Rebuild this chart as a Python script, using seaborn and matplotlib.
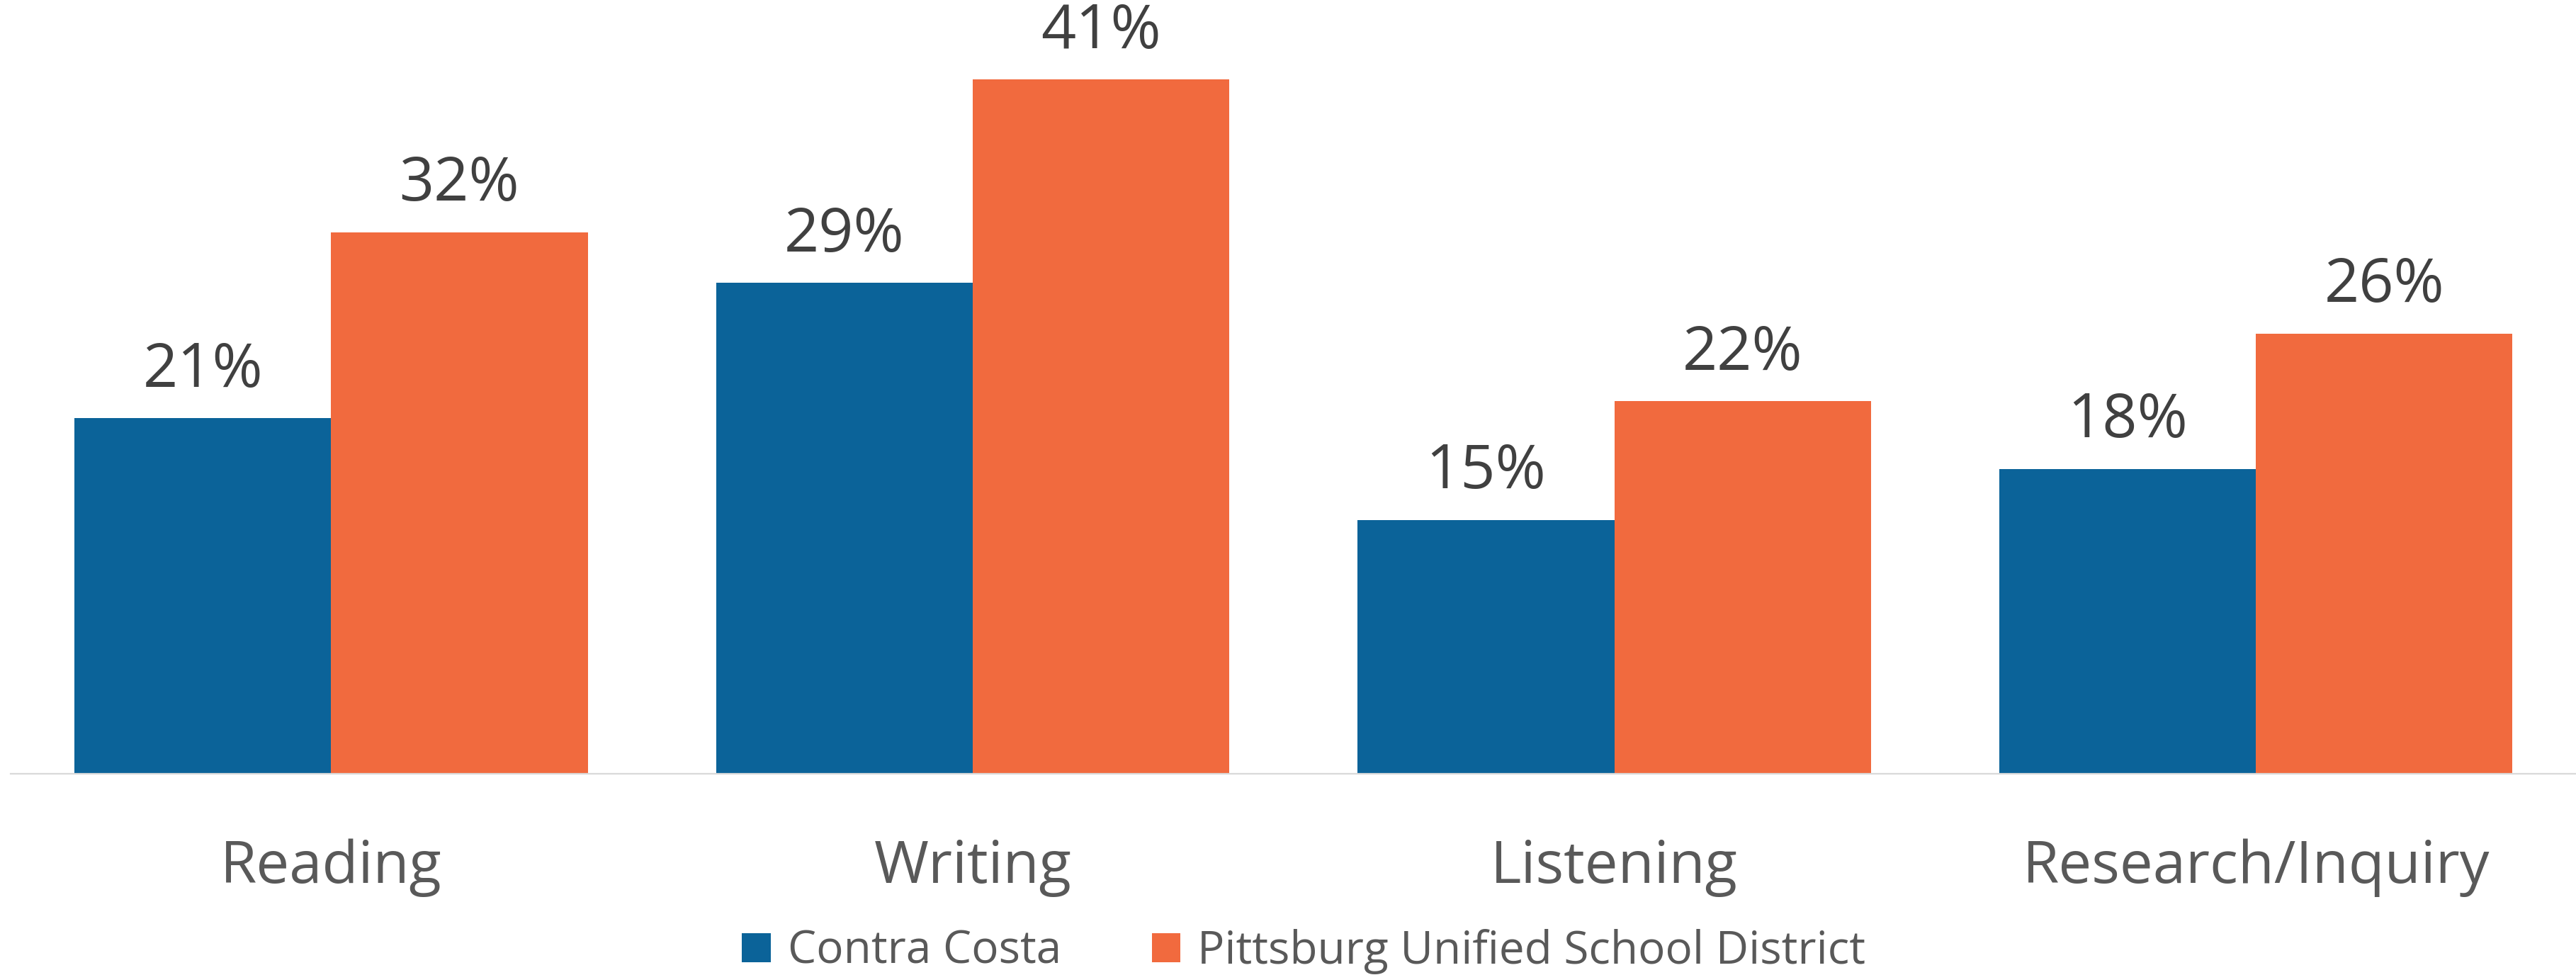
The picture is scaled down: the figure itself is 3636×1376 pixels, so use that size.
from matplotlib import pyplot as plt
from matplotlib.patches import Patch
import pandas as pd
import seaborn as sns

# Chart data
skills = ['Reading', 'Writing', 'Listening', 'Research/Inquiry']
groups = ['Contra Costa', 'Pittsburg Unified School District']
contra_costa = [0.21, 0.29, 0.15, 0.18]
pittsburg = [0.32, 0.41, 0.22, 0.26]
colors = ['#0B6399', '#F16A3E']

df = pd.DataFrame({
    'Skill': skills * 2,
    'Group': [groups[0]] * len(skills) + [groups[1]] * len(skills),
    'Pct': contra_costa + pittsburg,
})

sns.set_style('white')
plt.rcParams['font.family'] = ['Open Sans', 'DejaVu Sans']

fig = plt.figure(figsize=(36.37, 13.76), dpi=100)
ax = fig.add_axes([0.004, 0.2064, 0.996, 0.7813])

sns.barplot(data=df, x='Skill', y='Pct', hue='Group', hue_order=groups,
            palette=colors, saturation=1, width=0.8, gap=0, ax=ax,
            legend=False, linewidth=0, edgecolor='none', errorbar=None)

ax.set_xlim(-0.5, 3.5)
ax.set_ylim(0, 0.45)

# value labels above bars
for cont in ax.containers:
    ax.bar_label(cont, labels=[f'{v * 100:.0f}%' for v in cont.datavalues],
                 padding=17, fontsize=62, color='#404040')

ax.set_xlabel('')
ax.set_ylabel('')
ax.set_yticks([])
ax.tick_params(axis='x', length=0, pad=66, labelsize=60, labelcolor='#595959')

for side in ['top', 'left', 'right']:
    ax.spines[side].set_visible(False)
ax.spines['bottom'].set_color('#D9D9D9')
ax.spines['bottom'].set_linewidth(1.6)

# legend at the bottom
handles = [Patch(facecolor=c, edgecolor='none') for c in colors]
fig.legend(handles, groups, loc='center', bbox_to_anchor=(0.506, 0.024),
           ncol=2, frameon=False, fontsize=46, handlelength=0.63,
           handleheight=0.63, handletextpad=0.38, columnspacing=2.0,
           labelcolor='#595959', borderaxespad=0, borderpad=0)

fig.savefig('out.png', dpi=100)
